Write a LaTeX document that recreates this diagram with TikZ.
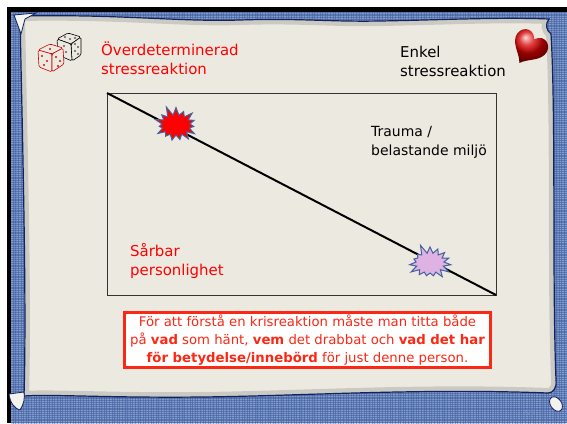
\documentclass[tikz,border=0pt]{standalone}
\usepackage{fontspec}
\setmainfont{DejaVu Sans}
\usetikzlibrary{positioning,shapes.symbols,patterns.meta}

\definecolor{paper}{RGB}{236,234,224}
\definecolor{denim}{RGB}{90,120,180}
\definecolor{denimhi}{RGB}{160,182,220}
\definecolor{denimlo}{RGB}{60,88,148}
\definecolor{navy}{RGB}{18,34,92}
\definecolor{alarm}{RGB}{255,0,0}
\definecolor{boxred}{RGB}{250,40,20}
\definecolor{burstedge}{RGB}{68,98,158}
\definecolor{lilac}{RGB}{222,178,226}
\definecolor{pagegray}{RGB}{128,148,188}

\tikzset{
  lbl/.style={font=\fontsize{15}{19}\selectfont,align=left,inner sep=0pt,anchor=base west},
  redlbl/.style={lbl,text=alarm},
  blklbl/.style={lbl,text=black},
  burst/.style={starburst,starburst points=15,starburst point height=10bp,
    minimum width=48bp,minimum height=40bp,inner sep=0pt,draw=burstedge,line width=1bp},
  scrolledge/.style={draw=navy,line width=1.2bp},
  die/.style={fill=paper,line width=0.6bp,rounded corners=1.5bp,line join=round},
  pip/.style={radius=0.9bp,line width=0.4bp},
  notebox/.style={draw=boxred,line width=3bp,fill=white,minimum width=366bp,minimum height=55bp,
    align=center,text=boxred,font=\fontsize{13.3}{18}\selectfont,inner sep=0pt},
}

\begin{document}
\begin{tikzpicture}[x=1bp,y=-1bp]
  \useasboundingbox (0,0) rectangle (567,423);
  \fill[white] (0,0) rectangle (567,423);
  % frame and textured backdrop
  \fill[black] (7,7) rectangle (567,12);
  \fill[black] (7,7) rectangle (11,423);
  \fill[denim] (11,12) rectangle (567,423);
  \begin{scope}
    \clip (11,12) rectangle (567,423);
    \fill[pattern={Lines[distance=2.2bp,angle=0,line width=0.6bp]},pattern color=denimhi,opacity=0.6] (11,12) rectangle (567,423);
    \fill[pattern={Lines[distance=2.6bp,angle=90,line width=0.5bp]},pattern color=denimlo,opacity=0.45] (11,12) rectangle (567,423);
  \end{scope}

  % the scroll
  \path[save path=\scrollpath] (20,16) .. controls (120,14) and (180,22) .. (240,20)
    .. controls (300,18) and (330,22) .. (380,21) .. controls (440,20) and (500,17) .. (549,19)
    .. controls (545,24) and (546,30) .. (551,34)
    .. controls (556,120) and (552,280) .. (556,380)
    .. controls (557,388) and (553,393) .. (548,393)
    .. controls (420,388) and (300,396) .. (200,397) .. controls (110,398) and (50,394) .. (24,396)
    .. controls (27,300) and (22,120) .. (20,16) -- cycle;
  \fill[paper,use path=\scrollpath];
  \begin{scope}
    \clip[use path=\scrollpath];
    \draw[black!40,line width=10bp,opacity=0.4,xshift=-3bp,yshift=3bp,use path=\scrollpath];
  \end{scope}
  \draw[scrolledge,use path=\scrollpath];
  % curled corners
  \draw[scrolledge,fill=paper!50!white,line width=0.8bp] (14,15) -- (36,13) -- (25,19) -- (21,34) -- cycle;
  \draw[scrolledge,fill=paper!60!white,line width=0.8bp] (9,394) .. controls (10,403) and (15,409) .. (20,410)
    .. controls (24,404) and (25,398) .. (24,392) -- cycle;
  \draw[scrolledge,fill=paper!60!white,line width=0.8bp,rotate around={35:(556,404)}] (556,404) ellipse [x radius=5.5, y radius=8];
  \node[text=pagegray,font=\fontsize{7}{8}\selectfont] (pagenr) at (529,413) {223};

  % dice
  \draw[die,draw=black] (57,39) -- (68,33) -- (81,37) -- (71,44) -- cycle;
  \draw[die,draw=black] (71,44) -- (81,37) -- (81,55) -- (72,61) -- cycle;
  \draw[die,draw=black] (57,39) -- (71,44) -- (72,61) -- (58,55) -- cycle;
  \foreach \p in {(65,37),(70,39),(75,38),(75,44),(78,47),(75,51),(78,54),(64,46),(66,52)}
    \draw[pip,black!70] \p circle[];
  \draw[die,draw=alarm!80!black] (38,50) -- (50,44) -- (63,48) -- (52,54) -- cycle;
  \draw[die,draw=alarm!80!black] (38,50) -- (52,54) -- (52,72) -- (39,67) -- cycle;
  \draw[die,draw=alarm!80!black] (52,54) -- (63,48) -- (64,64) -- (52,72) -- cycle;
  \foreach \p in {(50,49),(42,56),(47,61),(44,65),(56,57),(60,61),(58,66)}
    \draw[pip,alarm!70!black] \p circle[];

  % heart
  \shade[ball color=red!85!black,rotate around={-32:(530,46)}] (530,38)
    .. controls (523,27) and (510,35) .. (513,46) .. controls (516,55) and (525,58) .. (530,66)
    .. controls (535,58) and (544,55) .. (547,46) .. controls (550,35) and (537,27) .. (530,38) -- cycle;

  % headings
  \node[redlbl] (overd) at (101,74) {Överdeterminerad\\stressreaktion};
  \node[blklbl] (enkel) at (400,76) {Enkel\\stressreaktion};

  % the diagram
  \coordinate (tl) at (107,93);
  \coordinate (br) at (496,295);
  \draw[black!80,line width=1bp] (tl) rectangle (br);
  \draw[black,line width=2bp] (tl) -- (br);
  \node[burst,fill=alarm,random starburst=11] (hot) at (176,125) {};
  \node[burst,fill=lilac,random starburst=5] (mild) at (430,263) {};
  \node[blklbl,font=\fontsize{14}{19}\selectfont] (trauma) at (371,155) {Trauma /\\belastande miljö};
  \node[redlbl] (sarbar) at (130,275) {Sårbar\\personlighet};

  % note
  \node[notebox] (note) at (307.5,340) {För att förstå en krisreaktion måste man titta både\\
    på \textbf{vad} som hänt, \textbf{vem} det drabbat och \textbf{vad det har}\\
    \textbf{för betydelse/innebörd} för just denne person.};
\end{tikzpicture}
\end{document}
